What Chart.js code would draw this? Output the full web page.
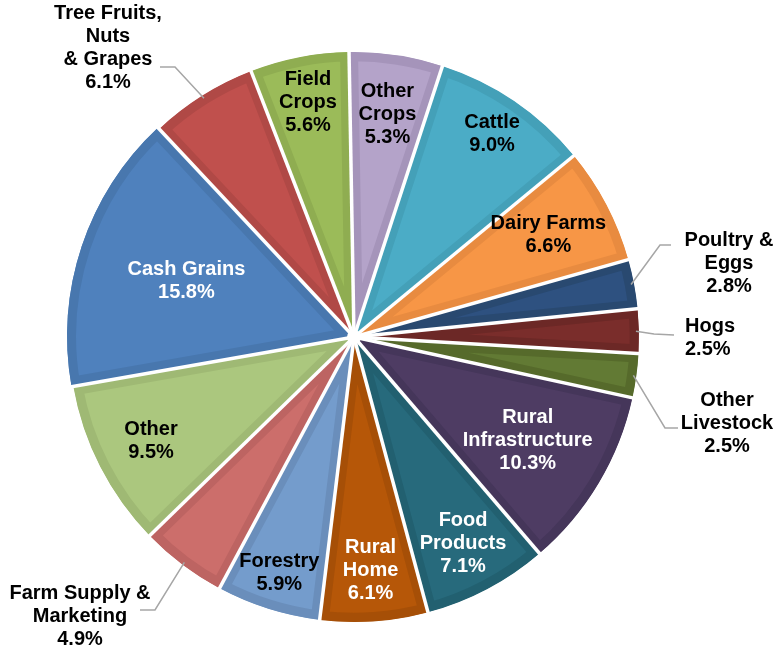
<!DOCTYPE html>
<html lang="en">
<head>
    <meta charset="UTF-8">
    <title>Loans by Sector</title>
    <style>
        * { box-sizing: border-box; margin: 0; padding: 0; }
        body { background: #fff; width: 777px; height: 648px; overflow: hidden; }
        #wrap { position: relative; width: 777px; height: 648px; }
    </style>
    <script src="https://cdn.jsdelivr.net/npm/chart.js"></script>
</head>
<body>
    <div id="wrap"><canvas id="pie"></canvas></div>

    <script>
        // Sectors, clockwise from 12 o'clock
        const sectors = [
            ['Other', 'Crops'], ['Cattle'], ['Dairy Farms'], ['Poultry &', 'Eggs'], ['Hogs'],
            ['Other', 'Livestock'], ['Rural', 'Infrastructure'], ['Food', 'Products'], ['Rural', 'Home'],
            ['Forestry'], ['Farm Supply &', 'Marketing'], ['Other'], ['Cash Grains'],
            ['Tree Fruits,', 'Nuts', '& Grapes'], ['Field', 'Crops']
        ];
        const shares = [5.3, 9.0, 6.6, 2.8, 2.5, 2.5, 10.3, 7.1, 6.1, 5.9, 4.9, 9.5, 15.8, 6.1, 5.6];

        // slice colours: face and the darker rim band
        const faceColors = ['#b4a3c9', '#4bacc6', '#f79646', '#2e5180', '#7a2d2b', '#627a34', '#4e3c63',
            '#276a7c', '#b65708', '#749ccc', '#cc6e6b', '#abc77e', '#4f81bd', '#c0504d', '#9bbb59'];
        const bandColors = ['#a594ba', '#44a0b8', '#e88b40', '#294970', '#6c2826', '#566a2b', '#45365a',
            '#226070', '#a64f07', '#6a8ebb', '#bd6462', '#9fb974', '#4877ae', '#b04946', '#8fad51'];
        const whiteText = [6, 7, 8, 12];

        // inside labels: distance from centre as a fraction of radius
        const labelDist = [0.79, 0.86, 0.77, 0, 0, 0, 0.71, 0.82, 0.82, 0.87, 0, 0.8, 0.62, 0, 0.84];
        // outside labels: leader elbow, leader end and text centre, relative to pie centre
        const callouts = {
            3:  { elbow: [306, -92], end: [317, -92], text: [375, -74] },
            4:  { elbow: [300, -3], end: [320, -2], text: [331, 1], align: 'left' },
            5:  { elbow: [311, 91], end: [324, 91], text: [373, 86] },
            10: { elbow: [-199, 273], end: [-214, 273], text: [-274, 279] },
            13: { elbow: [-179, -270], end: [-194, -270], text: [-246, -289] }
        };

        const FONT = 'bold 20px "Liberation Sans", Arial, sans-serif';
        const LINE = 23;

        function drawBlock(ctx, lines, x, y, align) {
            ctx.textAlign = align || 'center';
            ctx.textBaseline = 'middle';
            const top = y - (lines.length - 1) * LINE / 2;
            lines.forEach((t, i) => ctx.fillText(t, x, top + i * LINE));
        }

        // white gaps between slices and the small white hub
        const separators = {
            id: 'separators',
            afterDatasetsDraw(chart) {
                const ctx = chart.ctx;
                const arcs = chart.getDatasetMeta(0).data;
                ctx.save();
                ctx.strokeStyle = '#fff';
                ctx.lineWidth = 3.5;
                ctx.lineCap = 'butt';
                arcs.forEach(arc => {
                    const { x, y, startAngle, outerRadius } = arc.getProps(['x', 'y', 'startAngle', 'outerRadius'], true);
                    ctx.beginPath();
                    ctx.moveTo(x, y);
                    ctx.lineTo(x + Math.cos(startAngle) * (outerRadius + 12), y + Math.sin(startAngle) * (outerRadius + 12));
                    ctx.stroke();
                });
                const { x, y } = arcs[0].getProps(['x', 'y'], true);
                ctx.fillStyle = '#fff';
                ctx.beginPath();
                ctx.arc(x, y, 7, 0, Math.PI * 2);
                ctx.fill();
                ctx.restore();
            }
        };

        const sliceLabels = {
            id: 'sliceLabels',
            afterDatasetsDraw(chart) {
                const ctx = chart.ctx;
                const arcs = chart.getDatasetMeta(0).data;
                ctx.save();
                ctx.font = FONT;
                arcs.forEach((arc, i) => {
                    const { x, y, startAngle, endAngle, outerRadius } = arc.getProps(['x', 'y', 'startAngle', 'endAngle', 'outerRadius'], true);
                    const mid = (startAngle + endAngle) / 2;
                    const lines = sectors[i].concat([shares[i].toFixed(1) + '%']);
                    const c = callouts[i];
                    if (c) {
                        // leader line from the rim out to the label
                        ctx.strokeStyle = '#a6a6a6';
                        ctx.lineWidth = 1.5;
                        ctx.beginPath();
                        ctx.moveTo(x + Math.cos(mid) * (outerRadius - 3), y + Math.sin(mid) * (outerRadius - 3));
                        ctx.lineTo(x + c.elbow[0], y + c.elbow[1]);
                        ctx.lineTo(x + c.end[0], y + c.end[1]);
                        ctx.stroke();
                        ctx.fillStyle = '#000';
                        drawBlock(ctx, lines, x + c.text[0], y + c.text[1], c.align);
                    } else {
                        const r = outerRadius * labelDist[i];
                        ctx.fillStyle = whiteText.includes(i) ? '#fff' : '#000';
                        drawBlock(ctx, lines, x + Math.cos(mid) * r, y + Math.sin(mid) * r);
                    }
                });
                ctx.restore();
            }
        };

        const canvas = document.getElementById('pie');
        canvas.width = 777;
        canvas.height = 648;

        new Chart(canvas, {
            type: 'pie',
            data: {
                labels: sectors,
                datasets: [{
                    data: shares,
                    backgroundColor: faceColors,
                    borderColor: bandColors,
                    borderWidth: 9,
                    borderAlign: 'inner',
                    offset: shares.map((v, i) => i === 12 ? 8 : 0)
                }]
            },
            options: {
                responsive: false,
                animation: false,
                rotation: -1,
                radius: 285,
                layout: { padding: { left: 0, right: 69, top: 26, bottom: 0 } },
                plugins: {
                    legend: { display: false },
                    tooltip: { enabled: false }
                },
                events: []
            },
            plugins: [separators, sliceLabels]
        });
    </script>
</body>
</html>
